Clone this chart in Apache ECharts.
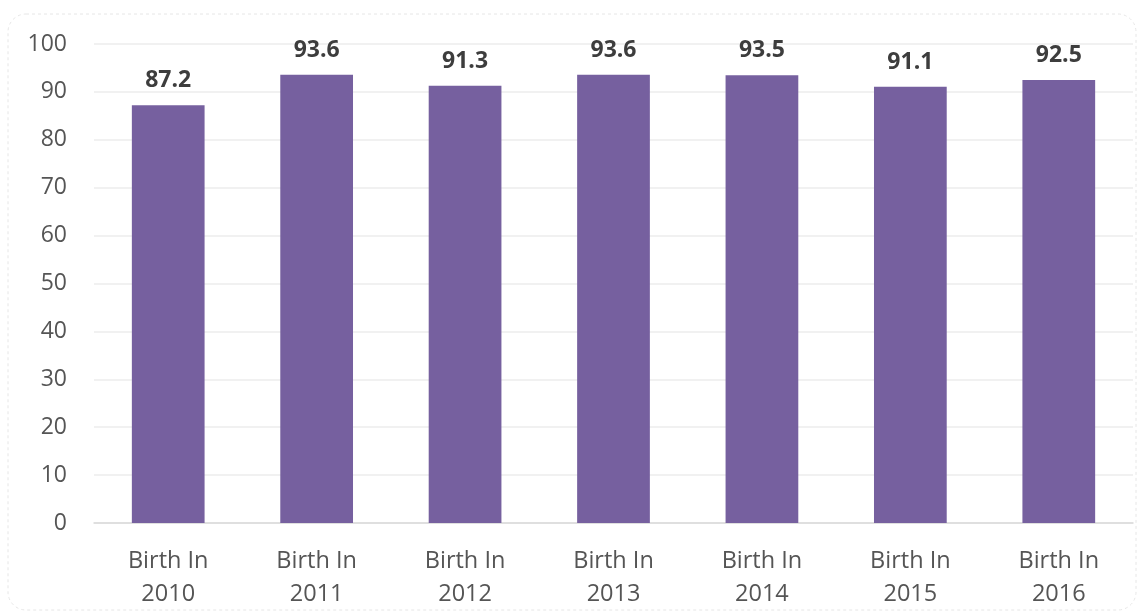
<!DOCTYPE html>
<html>
<head>
<meta charset="utf-8">
<script src="https://cdn.jsdelivr.net/npm/echarts@6/dist/echarts.min.js"></script>
<style>
  html, body { margin: 0; padding: 0; background: #fff; }
  #chart { width: 1141px; height: 616px; }
</style>
</head>
<body>
<div id="chart"></div>
<script>
const categories = ["Birth In\n2010", "Birth In\n2011", "Birth In\n2012", "Birth In\n2013", "Birth In\n2014", "Birth In\n2015", "Birth In\n2016"];
const values = [87.2, 93.6, 91.3, 93.6, 93.5, 91.1, 92.5];

const chart = echarts.init(document.getElementById("chart"));
const font = "'Open Sans', sans-serif";

chart.setOption({
  animation: false,
  graphic: [{
    type: "rect",
    shape: { x: 8, y: 14, width: 1128, height: 596, r: 18 },
    style: { fill: "none", stroke: "#e6e6e6", lineWidth: 1, lineDash: [3, 3] },
    silent: true
  }],
  grid: { left: 94, right: 8, top: 44, bottom: 93 },
  xAxis: {
    type: "category",
    data: categories,
    axisTick: { show: false },
    axisLine: { lineStyle: { color: "#d9d9d9", width: 1.5 } },
    axisLabel: {
      color: "#555555",
      fontFamily: font,
      fontSize: 23.5,
      lineHeight: 33,
      margin: 22,
      interval: 0
    }
  },
  yAxis: {
    type: "value",
    min: 0,
    max: 100,
    interval: 10,
    axisLine: { show: false },
    axisTick: { show: false },
    splitLine: { lineStyle: { color: "#ececec", width: 1.5 } },
    axisLabel: {
      color: "#555555",
      fontFamily: font,
      fontSize: 23,
      margin: 27
    }
  },
  series: [{
    type: "bar",
    data: values,
    barWidth: "49%",
    itemStyle: { color: "#76609f" },
    label: {
      show: true,
      position: "top",
      distance: 13,
      color: "#3d3d3d",
      fontFamily: font,
      fontWeight: "bold",
      fontSize: 23,
      formatter: p => p.value.toFixed(1)
    }
  }]
});
</script>
</body>
</html>
